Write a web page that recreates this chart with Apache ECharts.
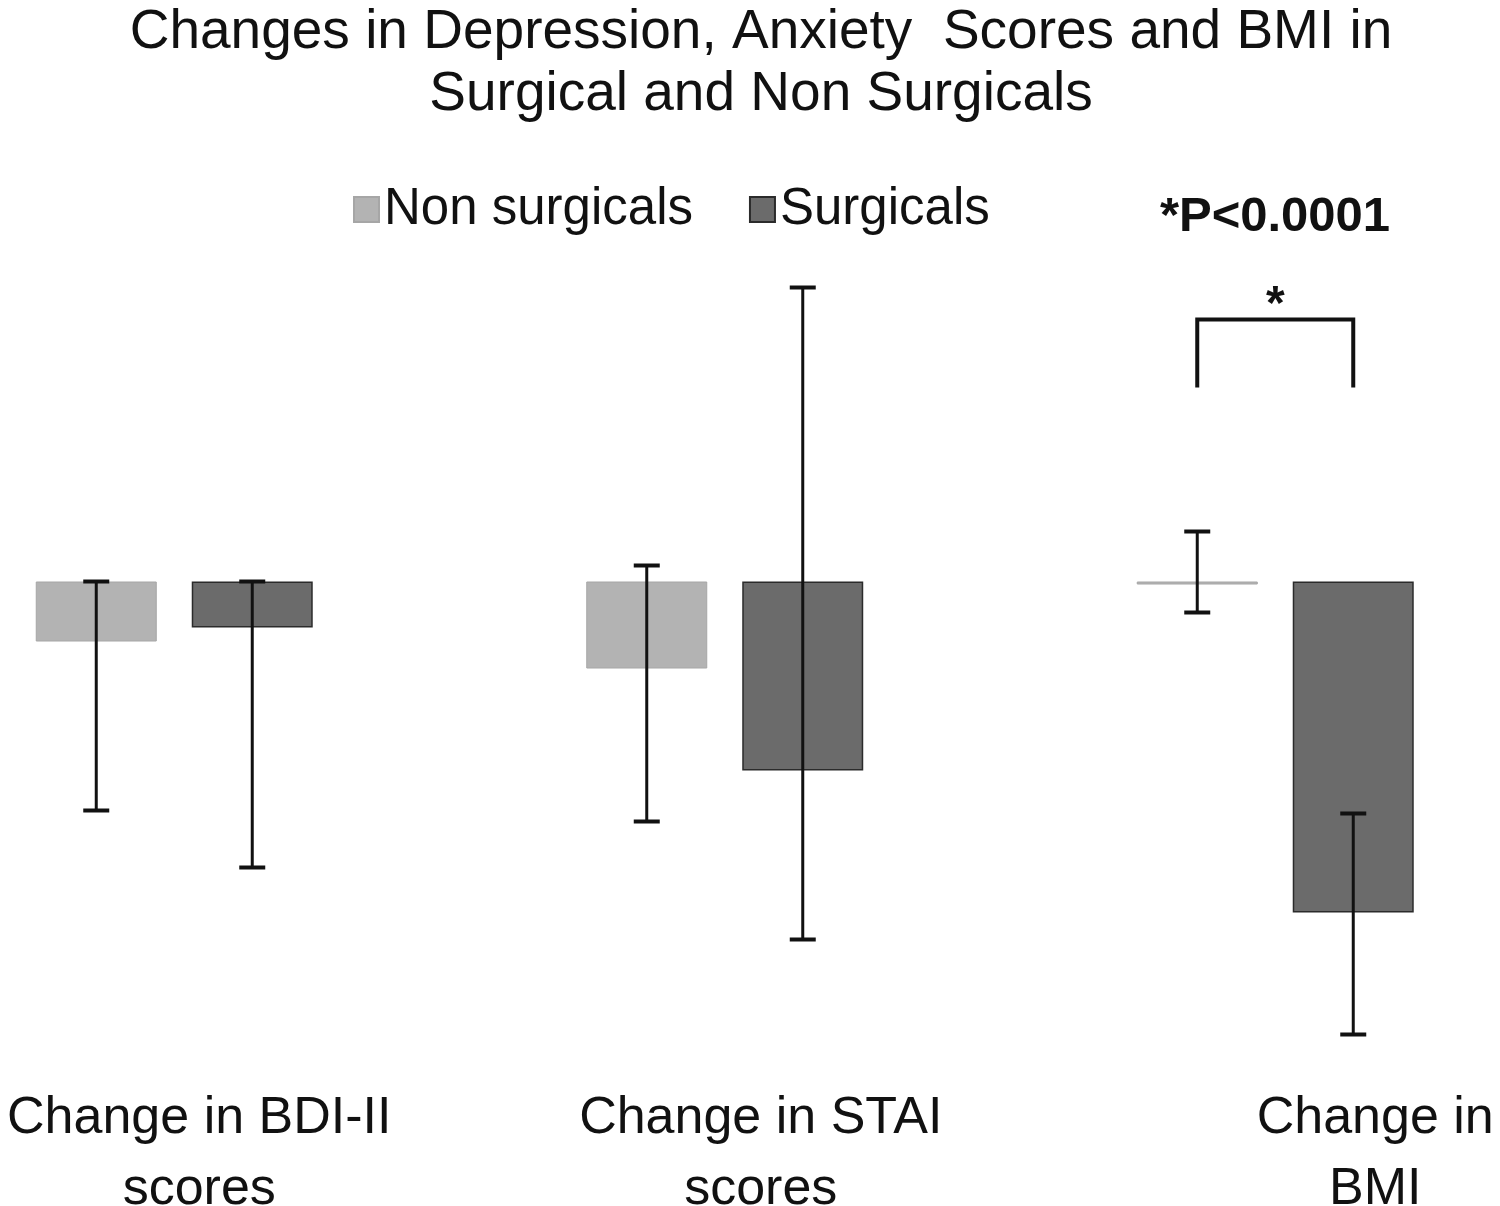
<!DOCTYPE html>
<html>
<head>
<meta charset="utf-8">
<script src="https://cdn.jsdelivr.net/npm/echarts@6/dist/echarts.min.js"></script>
<style>
  html, body { margin: 0; padding: 0; background: #ffffff; }
  #chart { width: 1500px; height: 1206px; }
</style>
</head>
<body>
<div id="chart"></div>
<script>
// ---- data ----
const categories = ['Change in BDI-II\nscores', 'Change in STAI\nscores', 'Change in\nBMI'];
const seriesNames = ['Non surgicals', 'Surgicals'];
const nonSurgMean = [-6.0, -8.7, -0.3];
const nonSurgLow  = [-22.9, -24.0, -3.1];
const nonSurgHigh = [0, 1.6, 5.0];
const surgMean = [-4.6, -18.9, -33.1];
const surgLow  = [-28.6, -35.8, -45.3];
const surgHigh = [0, 29.4, -23.2];
const bracketCategory = [2];
const bracketTop = [26.2];
const bracketLegEnd = [19.4];
const bracketMark = '*';
const pValueText = '*P<0.0001';
const titleText = 'Changes in Depression, Anxiety  Scores and BMI in\nSurgical and Non Surgicals';

// ---- style constants ----
const FONT = '"Liberation Sans", Arial, sans-serif';
const BAR_W = 121;
const BAR_GAP_PX = 35;
const OFFSET = (BAR_W + BAR_GAP_PX) / 2;
const labelPads = [50, 72, 200];

const chart = echarts.init(document.getElementById('chart'));

function errorBarRenderer(offset) {
  return function (params, api) {
    const c = api.value(0);
    const pLow = api.coord([c, api.value(1)]);
    const pHigh = api.coord([c, api.value(2)]);
    const x = pLow[0] + offset;
    const capHalf = 13;
    const lineStyle = { stroke: '#111', lineWidth: 3 };
    const capStyle = { stroke: '#111', lineWidth: 4 };
    return {
      type: 'group',
      children: [
        { type: 'line', shape: { x1: x, y1: pHigh[1], x2: x, y2: pLow[1] }, style: lineStyle },
        { type: 'line', shape: { x1: x - capHalf, y1: pHigh[1], x2: x + capHalf, y2: pHigh[1] }, style: capStyle },
        { type: 'line', shape: { x1: x - capHalf, y1: pLow[1], x2: x + capHalf, y2: pLow[1] }, style: capStyle }
      ]
    };
  };
}

const labelRich = {};
labelPads.forEach(function (p, i) {
  labelRich['c' + i] = { fontFamily: FONT, fontSize: 52, lineHeight: 71, color: '#111', padding: [0, 0, 0, p] };
});

const option = {
  animation: false,
  backgroundColor: '#ffffff',
  title: {
    text: titleText,
    left: 756,
    textAlign: 'center',
    top: -3,
    textStyle: { fontFamily: FONT, fontSize: 55, fontWeight: 'normal', color: '#111', lineHeight: 62 }
  },
  legend: {
    data: seriesNames,
    left: 348,
    top: 179,
    itemWidth: 25,
    itemHeight: 25,
    itemGap: 56,
    icon: 'rect',
    textStyle: { fontFamily: FONT, fontSize: 51, color: '#111' }
  },
  grid: { left: -101, right: -50.5, top: 281.5, bottom: 144.5, outerBoundsMode: 'none', containLabel: false },
  xAxis: {
    type: 'category',
    data: categories,
    axisLine: { show: false },
    axisTick: { show: false },
    axisLabel: {
      interval: 0,
      margin: 22,
      formatter: function (value, index) { return '{c' + index + '|' + value + '}'; },
      rich: labelRich
    }
  },
  yAxis: {
    type: 'value',
    min: -48,
    max: 30,
    show: false,
    splitLine: { show: false }
  },
  graphic: [
    {
      type: 'text',
      x: 1275,
      y: 217,
      style: {
        text: pValueText,
        fontFamily: FONT,
        fontSize: 49,
        fontWeight: 'bold',
        fill: '#111',
        align: 'center',
        verticalAlign: 'middle'
      }
    }
  ],
  series: [
    {
      name: seriesNames[0],
      type: 'bar',
      data: nonSurgMean,
      barWidth: BAR_W,
      barGap: (BAR_GAP_PX / BAR_W * 100).toFixed(1) + '%',
      itemStyle: { color: '#b3b3b3', borderColor: '#a6a6a6', borderWidth: 1 },
      z: 2
    },
    {
      name: seriesNames[1],
      type: 'bar',
      data: surgMean,
      barWidth: BAR_W,
      itemStyle: { color: '#6b6b6b', borderColor: '#2b2b2b', borderWidth: 1.5 },
      z: 2
    },
    {
      type: 'custom',
      name: 'errNon',
      data: categories.map((c, i) => [i, nonSurgLow[i], nonSurgHigh[i]]),
      encode: { x: 0, y: [1, 2] },
      renderItem: errorBarRenderer(-OFFSET),
      z: 5,
      silent: true
    },
    {
      type: 'custom',
      name: 'errSurg',
      data: categories.map((c, i) => [i, surgLow[i], surgHigh[i]]),
      encode: { x: 0, y: [1, 2] },
      renderItem: errorBarRenderer(OFFSET),
      z: 5,
      silent: true
    },
    {
      type: 'custom',
      name: 'bracket',
      data: bracketCategory.map((c, i) => [c, bracketTop[i], bracketLegEnd[i]]),
      encode: { x: 0, y: [1, 2] },
      renderItem: function (params, api) {
        const c = api.value(0);
        const pTop = api.coord([c, api.value(1)]);
        const pLeg = api.coord([c, api.value(2)]);
        const xl = pTop[0] - OFFSET;
        const xr = pTop[0] + OFFSET;
        const st = { stroke: '#111', lineWidth: 4, fill: null, lineJoin: 'miter' };
        return {
          type: 'group',
          children: [
            { type: 'polyline', shape: { points: [[xl, pLeg[1]], [xl, pTop[1]], [xr, pTop[1]], [xr, pLeg[1]]] }, style: st },
            { type: 'text', x: pTop[0], y: pTop[1] - 14, style: {
                text: bracketMark, fontFamily: FONT, fontSize: 48, fontWeight: 'bold',
                fill: '#111', align: 'center', verticalAlign: 'middle' } }
          ]
        };
      },
      z: 5,
      silent: true
    }
  ]
};

chart.setOption(option);
</script>
</body>
</html>
